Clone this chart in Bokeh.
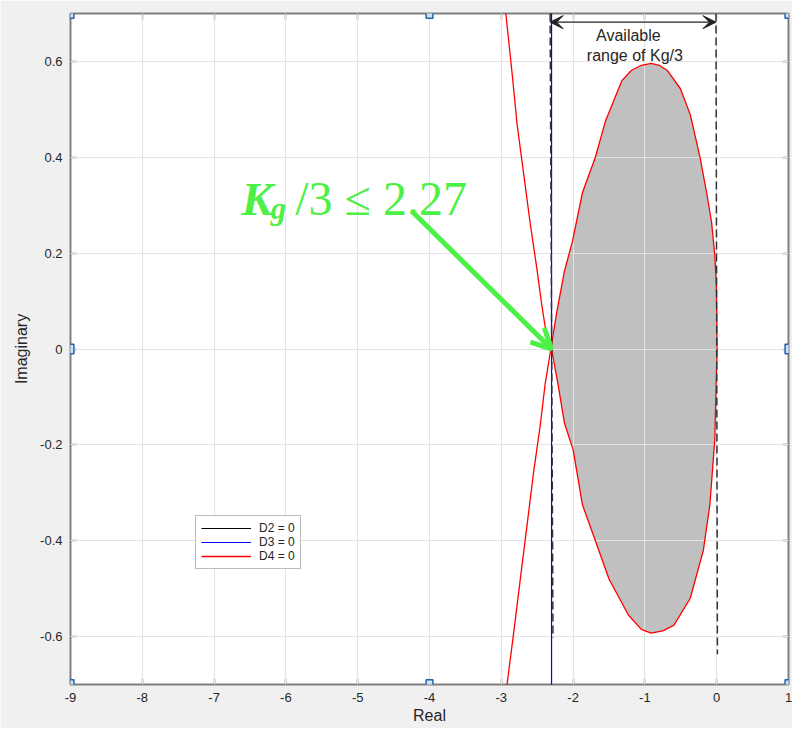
from bokeh.plotting import figure
from bokeh.models import (Range1d, LinearAxis, FixedTicker, Legend, LegendItem, Label,
                          Arrow, VeeHead, OpenHead)
from bokeh.embed import file_html
from bokeh.resources import INLINE

# ---------------- data ----------------
x_ticks = [-9, -8, -7, -6, -5, -4, -3, -2, -1, 0, 1]
y_ticks = [-0.6, -0.4, -0.2, 0, 0.2, 0.4, 0.6]
x_tick_labels = ["-9", "-8", "-7", "-6", "-5", "-4", "-3", "-2", "-1", "0", "1"]
y_tick_labels = ["-0.6", "-0.4", "-0.2", "0", "0.2", "0.4", "0.6"]
x_lim = (-9, 1)
y_lim = (-0.7, 0.7)

# D4 = 0 : closed oval (upper and lower halves) plus two outer branches
oval_up_x = [-2.31, -2.23, -2.12, -2.01, -1.87, -1.69, -1.55, -1.32, -1.19, -1.05, -0.914,
             -0.80, -0.686, -0.505, -0.368, -0.232, -0.14, -0.072, -0.027, -0.004, 0.005]
oval_up_y = [0.0, 0.075, 0.163, 0.224, 0.326, 0.40, 0.475, 0.56, 0.581, 0.592, 0.596,
             0.592, 0.581, 0.543, 0.489, 0.40, 0.326, 0.265, 0.197, 0.13, 0.0]
oval_lo_x = [-2.30, -2.21, -2.12, -2.00, -1.87, -1.69, -1.50, -1.23, -1.05, -0.914, -0.75,
             -0.595, -0.368, -0.186, -0.095, -0.027, 0.005]
oval_lo_y = [0.0, -0.074, -0.155, -0.21, -0.325, -0.40, -0.48, -0.555, -0.585, -0.593, -0.588,
             -0.576, -0.52, -0.42, -0.325, -0.19, 0.0]
outer_up_x = [-2.937, -2.846, -2.78, -2.69, -2.60, -2.50, -2.44, -2.37, -2.31]
outer_up_y = [0.70, 0.570, 0.469, 0.367, 0.265, 0.163, 0.096, 0.028, 0.0]
outer_lo_x = [-2.31, -2.39, -2.46, -2.55, -2.64, -2.73, -2.82, -2.92]
outer_lo_y = [0.0, -0.074, -0.162, -0.257, -0.366, -0.474, -0.583, -0.70]

# D3 = 0 : near-vertical line
d3_x = [-2.30, -2.30]
d3_y = [0.70, -0.70]

# D2 = 0 : no visible points in the window
d2_x = [float("nan")]
d2_y = [float("nan")]

# dashed bounds of the available range
dash_l_x = [-2.32, -2.28]
dash_l_y = [0.70, -0.603]
dash_r_x = [-0.01, 0.01]
dash_r_y = [0.70, -0.637]

range_lo = -2.32
range_hi = -0.01
range_arrow_y = 0.682

kg_limit_text = "/3 \u2264 2.27"
kg_point = (-2.30, 0.0)
kg_arrow_start = (-4.21, 0.282)

# ---------------- styling ----------------
AX = "#7a7a7a"
TXT = "#262626"
GREEN = "#4cf046"
FONT = "Liberation Sans"

p = figure(width=792, height=728, output_backend="svg", toolbar_location=None,
           x_range=Range1d(*x_lim), y_range=Range1d(*y_lim),
           min_border_left=70, min_border_right=4, min_border_top=13, min_border_bottom=44,
           x_axis_label="Real", y_axis_label="Imaginary")
p.border_fill_color = "#f0f0f0"
p.background_fill_color = "white"
p.outline_line_color = AX
p.outline_line_width = 1.5


def style_axis(ax, ticks):
    ax.ticker = FixedTicker(ticks=ticks)
    ax.major_tick_in = 6
    ax.major_tick_out = 0
    ax.minor_tick_in = 0
    ax.minor_tick_out = 0
    ax.axis_line_color = AX
    ax.axis_line_width = 1.5
    ax.major_tick_line_color = AX
    ax.major_tick_line_width = 1.5
    ax.major_label_text_color = TXT
    ax.major_label_text_font = FONT
    ax.major_label_text_font_size = "13px"
    ax.axis_label_text_font = FONT
    ax.axis_label_text_font_size = "16px"
    ax.axis_label_text_font_style = "normal"
    ax.axis_label_text_color = TXT


style_axis(p.xaxis[0], x_ticks)
style_axis(p.yaxis[0], y_ticks)
p.xaxis[0].major_label_overrides = dict(zip(x_ticks, x_tick_labels))
p.yaxis[0].major_label_overrides = dict(zip(y_ticks, y_tick_labels))
p.xaxis[0].major_label_standoff = 8
p.xaxis[0].axis_label_standoff = 2
p.yaxis[0].major_label_standoff = 8
p.yaxis[0].axis_label_standoff = 7

top_ax = LinearAxis()
right_ax = LinearAxis()
style_axis(top_ax, x_ticks)
style_axis(right_ax, y_ticks)
for ax, ticks in ((top_ax, x_ticks), (right_ax, y_ticks)):
    ax.major_label_overrides = {t: "" for t in ticks}
    ax.major_label_standoff = 0
p.add_layout(top_ax, "above")
p.add_layout(right_ax, "right")

for g, ticks in ((p.xgrid[0], x_ticks), (p.ygrid[0], y_ticks)):
    g.ticker = FixedTicker(ticks=ticks)
    g.grid_line_color = "#e3e3e3"
    g.grid_line_width = 1
    g.level = "guide"

# shaded stable region
fill_x = oval_up_x + oval_lo_x[::-1]
fill_y = oval_up_y + oval_lo_y[::-1]
p.patch(fill_x, fill_y, fill_color="#c0c0c0", line_color=None, level="glyph")

# curves
r2 = p.line(d2_x, d2_y, line_color="#000000", line_width=1.2, level="annotation")
r3 = p.line(d3_x, d3_y, line_color="#0000ff", line_width=1.2, level="annotation")
r4 = p.multi_line([outer_up_x, oval_up_x, oval_lo_x, outer_lo_x],
                  [outer_up_y, oval_up_y, oval_lo_y, outer_lo_y],
                  line_color="#ff0000", line_width=1.3, level="annotation")

p.line(dash_l_x, dash_l_y, line_color="#333333", line_width=1.5, line_dash="8 4", level="annotation")
p.line(dash_r_x, dash_r_y, line_color="#333333", line_width=1.5, line_dash="8 4", level="annotation")

# available range arrow and text
p.add_layout(Arrow(start=VeeHead(size=13, fill_color="#222222", line_color="#222222"),
                   end=VeeHead(size=13, fill_color="#222222", line_color="#222222"),
                   x_start=range_lo, y_start=range_arrow_y, x_end=range_hi, y_end=range_arrow_y,
                   line_color="#222222", line_width=1.3))
p.add_layout(Label(x=-1.23, y=0.655, text="Available", text_align="center",
                   text_baseline="middle", text_font=FONT, text_font_size="16px",
                   text_color=TXT))
p.add_layout(Label(x=-1.14, y=0.612, text="range of Kg/3", text_align="center",
                   text_baseline="middle", text_font=FONT, text_font_size="16px",
                   text_color=TXT))

# green annotation
p.add_layout(Label(x=-6.62, y=0.313, text="K", text_font="Liberation Serif",
                   text_font_size="47px", text_font_style="bold italic",
                   text_color=GREEN, text_baseline="alphabetic"))
p.add_layout(Label(x=-6.21, y=0.293, text="g", text_font="Liberation Serif",
                   text_font_size="31px", text_font_style="bold italic",
                   text_color=GREEN, text_baseline="alphabetic"))
p.add_layout(Label(x=-5.87, y=0.313, text=kg_limit_text, text_font="Liberation Serif",
                   text_font_size="48px", text_font_style="normal",
                   text_color=GREEN, text_baseline="alphabetic"))
p.add_layout(Arrow(end=OpenHead(size=20, line_width=5, line_color=GREEN),
                   x_start=kg_arrow_start[0], y_start=kg_arrow_start[1],
                   x_end=kg_point[0], y_end=kg_point[1],
                   line_color=GREEN, line_width=5))

# selection handles on the axes box (corners and edge midpoints), drawn unclipped
hx = [x_lim[0], (x_lim[0] + x_lim[1]) / 2, x_lim[1]]
hy = [y_lim[0], (y_lim[0] + y_lim[1]) / 2, y_lim[1]]
for xi in hx:
    for yi in hy:
        if xi == hx[1] and yi == hy[1]:
            continue
        p.add_layout(Label(x=xi, y=yi, text="\u00a0", text_align="center", text_baseline="middle",
                           text_font=FONT, text_font_size="3px", padding=3,
                           background_fill_color="#cfe2f5", background_fill_alpha=1.0,
                           border_line_color="#1f64b0", border_line_width=1.5,
                           level="overlay"))

legend = Legend(items=[LegendItem(label="D2 = 0", renderers=[r2]),
                       LegendItem(label="D3 = 0", renderers=[r3]),
                       LegendItem(label="D4 = 0", renderers=[r4])],
                location=(125, 115), orientation="vertical",
                label_text_font=FONT, label_text_font_size="12px", label_text_color=TXT,
                glyph_width=50, glyph_height=14, label_height=14, label_standoff=8,
                padding=5, spacing=0, margin=0,
                border_line_color=AX, border_line_width=1.5,
                background_fill_color="white", background_fill_alpha=1.0)
p.add_layout(legend, "center")

open("out.html", "w").write(file_html(p, INLINE))
